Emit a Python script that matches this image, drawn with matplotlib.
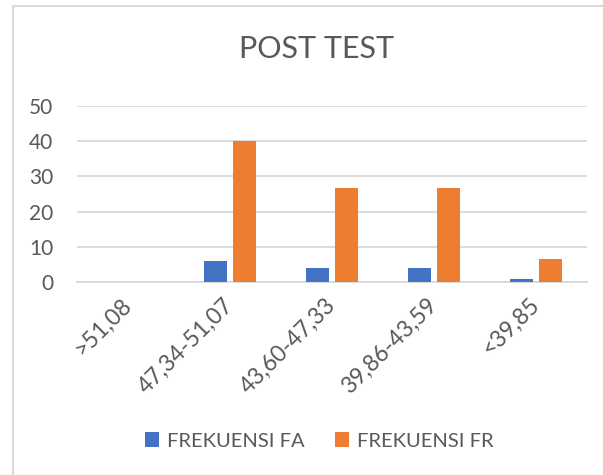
import matplotlib
matplotlib.use("Agg")
import matplotlib.pyplot as plt
from matplotlib.patches import Rectangle
import numpy as np

categories = [">51,08", "47,34-51,07", "43,60-47,33", "39,86-43,59", "<39,85"]
fa_values = [0, 6, 4, 4, 1]
fr_values = [0, 40, 26.67, 26.67, 6.67]
series_names = ["FREKUENSI FA", "FREKUENSI FR"]
title = "POST TEST"
yticks = [0, 10, 20, 30, 40, 50]

plt.rcParams['font.family'] = ['Lato', 'DejaVu Sans']
text_color = "#595959"
grid_color = "#d9d9d9"
blue = "#4472C4"
orange = "#ED7D31"

W, H = 603, 475
fig = plt.figure(figsize=(W / 100, H / 100), dpi=100)

# chart border
fig.patches.append(Rectangle((13 / W, -0.05), 1.2, 1 - 6.5 / H + 0.05,
                             transform=fig.transFigure, fill=False,
                             edgecolor=grid_color, linewidth=1.5, zorder=0))

left, right = 77 / W, 587 / W
bottom, top = 1 - 282.3 / H, 1 - 105.7 / H
ax = fig.add_axes([left, bottom, right - left, top - bottom])

x = np.arange(len(categories))
bw = 0.23
off = 0.144
ax.bar(x - off, fa_values, bw, color=blue, label=series_names[0], zorder=3)
ax.bar(x + off, fr_values, bw, color=orange, label=series_names[1], zorder=3)

ax.set_xlim(-0.5, len(categories) - 0.5)
ax.set_ylim(0, 50)
ax.set_yticks(yticks)
ax.set_yticklabels([str(v) for v in yticks])
ax.yaxis.grid(True, color=grid_color, linewidth=1.3, zorder=0)
ax.set_axisbelow(True)
for s in ["top", "right", "left"]:
    ax.spines[s].set_visible(False)
ax.spines["bottom"].set_color(grid_color)
ax.spines["bottom"].set_linewidth(1.3)
ax.tick_params(axis="both", length=0, colors=text_color, labelsize=15)
ax.tick_params(axis="y", pad=17)

ax.set_xticks(x)
ax.set_xticklabels(categories, rotation=45, ha="right", va="center",
                   rotation_mode="anchor", fontsize=16.5)
ax.tick_params(axis="x", pad=14)

fig.text(317 / W, 1 - 49 / H, title, ha="center", va="center",
         fontsize=22, color=text_color)

leg = fig.legend(loc="center", bbox_to_anchor=(319 / W, 1 - 441 / H),
                 ncol=2, frameon=False, fontsize=14.5, labelcolor=text_color,
                 handlelength=0.7, handleheight=0.7, handletextpad=0.4,
                 columnspacing=1.5)

fig.savefig("out.png", dpi=100)
